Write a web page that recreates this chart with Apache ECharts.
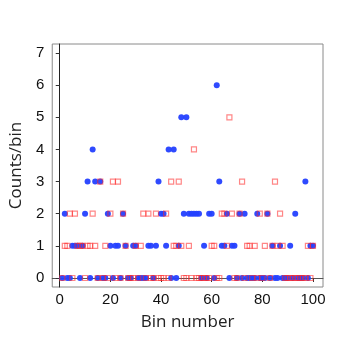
<!DOCTYPE html>
<html>
<head>
<meta charset="utf-8">
<script src="https://cdn.jsdelivr.net/npm/echarts@6/dist/echarts.min.js"></script>
<style>
  html, body { margin: 0; padding: 0; background: #fff; }
  #chart { width: 346px; height: 342px; }
</style>
</head>
<body>
<div id="chart"></div>
<script>
// counts per bin, bins 1..100 (index 0 -> bin 1)
const blueCounts = [
  0, 2, 0, 0, 1, 1, 1, 0, 1, 2,
  3, 0, 4, 3, 0, 3, 0, 0, 2, 1,
  0, 1, 1, 0, 2, 1, 0, 0, 1, 1,
  0, 0, 0, 0, 1, 1, 0, 1, 3, 2,
  2, 1, 4, 0, 4, 0, 1, 5, 2, 5,
  2, 2, 2, 2, 2, 0, 1, 0, 2, 2,
  0, 6, 3, 1, 1, 2, 0, 1, 1, 0,
  2, 0, 2, 0, 0, 0, 0, 2, 0, 0,
  0, 2, 0, 1, 0, 0, 1, 0, 0, 0,
  1, 0, 2, 0, 0, 0, 3, 0, 1, 1
];
const redCounts = [
  0, 1, 1, 2, 0, 2, 1, 1, 1, 0,
  1, 1, 2, 1, 0, 3, 0, 1, 0, 2,
  3, 0, 3, 0, 2, 1, 0, 0, 0, 1,
  0, 1, 2, 0, 2, 0, 0, 2, 0, 0,
  0, 2, 0, 3, 1, 1, 3, 1, 0, 0,
  1, 0, 4, 0, 0, 0, 0, 0, 0, 1,
  1, 0, 0, 2, 2, 1, 5, 2, 0, 0,
  2, 3, 0, 1, 1, 0, 1, 0, 2, 0,
  1, 2, 0, 1, 3, 1, 2, 1, 0, 0,
  0, 0, 0, 0, 0, 0, 0, 1, 0, 1
];
const xTicks = [0, 20, 40, 60, 80, 100];
const yTicks = [0, 1, 2, 3, 4, 5, 6, 7];

const blueData = blueCounts.map((v, i) => [i + 1, v]);
const redData = redCounts.map((v, i) => [i + 1, v]);

const chart = echarts.init(document.getElementById('chart'), null, { renderer: 'canvas' });

const labelFont = 'Liberation Sans, Arial, sans-serif';
const titleFont = 'Open Sans, DejaVu Sans, sans-serif';

chart.setOption({
  animation: false,
  backgroundColor: '#fff',
  grid: {
    left: 48, right: 23, top: 44, bottom: 55,
    show: true, borderColor: '#8a8a8a', borderWidth: 1,
    containLabel: false
  },
  xAxis: {
    type: 'value',
    min: -2.96, max: 103.96,
    name: 'Bin number',
    nameLocation: 'middle',
    nameGap: 27,
    nameTextStyle: { fontFamily: titleFont, fontSize: 17, color: '#222' },
    axisLine: { show: true, lineStyle: { color: '#555', width: 1 } },
    axisTick: { show: true, length: 4, customValues: xTicks, lineStyle: { color: '#333' } },
    axisLabel: { customValues: xTicks, margin: 5, fontFamily: labelFont, fontSize: 15, color: '#111' },
    splitLine: { show: false }
  },
  yAxis: {
    type: 'value',
    min: -0.28, max: 7.28,
    name: 'Counts/bin',
    nameLocation: 'middle',
    nameGap: 26,
    nameTextStyle: { fontFamily: titleFont, fontSize: 17, color: '#222' },
    axisLine: { show: true, lineStyle: { color: '#222', width: 1 } },
    axisTick: { show: true, length: 4, customValues: yTicks, lineStyle: { color: '#333' } },
    axisLabel: { customValues: yTicks, margin: 8, fontFamily: labelFont, fontSize: 15, color: '#111' },
    splitLine: { show: false }
  },
  series: [
    {
      name: 'blue',
      type: 'scatter',
      data: blueData,
      symbol: 'circle',
      symbolSize: 6,
      itemStyle: { color: '#2440ff', opacity: 0.95 }
    },
    {
      name: 'red',
      type: 'scatter',
      data: redData,
      symbol: 'rect',
      symbolSize: 5,
      itemStyle: {
        color: 'rgba(255,255,255,0)',
        borderColor: 'rgba(255,40,40,0.7)',
        borderWidth: 1.2
      }
    }
  ]
});
</script>
</body>
</html>
